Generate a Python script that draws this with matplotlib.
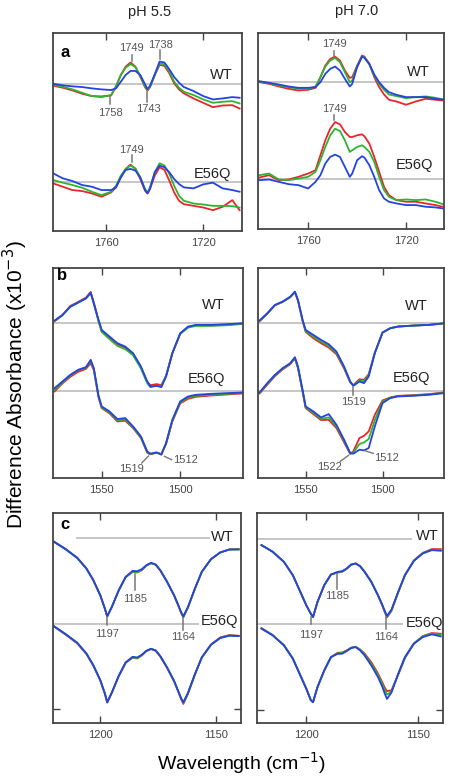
import matplotlib
matplotlib.use("Agg")
import matplotlib.pyplot as plt

plt.rcParams["font.family"] = ["Liberation Sans", "DejaVu Sans"]

RED, GREEN, BLUE = "#e8262b", "#2fb432", "#2443e0"
BASE = "#c2c2c2"
NOTE = "#555555"

# ---- panel a: C=O region, 1782-1705 cm-1 (arbitrary difference units) ----
A55_X = [1782, 1778, 1774, 1770, 1766, 1762, 1758, 1756, 1754, 1752, 1750, 1748, 1746, 1744, 1743,
         1742, 1740, 1738, 1736, 1734, 1732, 1730, 1728, 1724, 1720, 1716, 1712, 1708, 1705]
A55_WT_R = [-4, -10, -18, -28, -35, -36, -33, -7, 28, 53, 65, 53, 23, -9, -19, -9, 28, 58, 55, 33, 3, -15, -27, -42, -55, -68, -63, -62, -72]
A55_WT_G = [-1, -7, -15, -25, -35, -38, -32, -5, 28, 50, 60, 52, 25, -6, -17, -8, 28, 62, 60, 38, 8, -10, -22, -32, -45, -55, -52, -50, -57]
A55_WT_B = [2, -3, -6, -8, -12, -15, -17, -12, 8, 28, 40, 40, 28, 0, -14, -5, 30, 68, 65, 45, 22, 5, -8, -20, -35, -45, -42, -38, -40]
A55_MU_R = [-5, -15, -25, -28, -35, -45, -32, -17, 13, 38, 51, 38, 8, -27, -35, -22, 18, 43, 35, 3, -32, -57, -67, -72, -77, -85, -75, -55, -85]
A55_MU_G = [5, -3, -10, -18, -30, -40, -30, -12, 18, 38, 48, 40, 13, -22, -32, -17, 28, 55, 48, 23, -12, -42, -57, -65, -68, -72, -72, -73, -77]
A55_MU_B = [25, 10, 2, -10, -15, -25, -25, -17, 13, 35, 38, 33, 13, -25, -35, -22, 28, 48, 43, 28, 8, -7, -17, -20, -8, -3, -20, -25, -30]

A70_X = [1780, 1776, 1772, 1768, 1764, 1760, 1757, 1755, 1753, 1751, 1749, 1747, 1745, 1743, 1742,
         1740, 1738, 1737, 1735, 1733, 1731, 1729, 1727, 1724, 1720, 1716, 1712, 1708, 1705]
A70_WT_R = [0, -5, -13, -20, -25, -23, -17, 15, 50, 70, 77, 65, 35, 13, 15, 50, 80, 77, 55, 15, -15, -37, -53, -58, -68, -58, -50, -53, -55]
A70_WT_G = [2, -3, -10, -15, -20, -20, -13, 15, 47, 65, 73, 60, 30, 0, 5, 47, 77, 75, 53, 20, -5, -23, -37, -42, -48, -45, -43, -47, -52]
A70_WT_B = [3, -2, -7, -13, -17, -17, -15, 0, 25, 40, 47, 35, 10, -13, -5, 45, 77, 73, 55, 23, 0, -17, -30, -38, -45, -45, -45, -50, -52]
A70_MU_R = [3, 10, -5, -3, 5, 15, 25, 70, 115, 150, 170, 163, 140, 125, 125, 130, 133, 127, 105, 65, 20, -25, -50, -65, -70, -70, -75, -80, -85]
A70_MU_G = [10, 15, -3, -5, 0, 5, 20, 55, 95, 130, 150, 143, 115, 80, 85, 95, 100, 95, 80, 50, 5, -35, -55, -65, -63, -65, -63, -70, -77]
A70_MU_B = [-5, -3, -10, -17, -20, -30, -10, 10, 45, 65, 72, 65, 35, 5, 15, 55, 67, 63, 40, 5, -35, -60, -70, -75, -80, -80, -85, -87, -90]

# ---- panel b: amide II region ----
B_X = [1580, 1575, 1570, 1565, 1560, 1557, 1555, 1552, 1550, 1545, 1540, 1535, 1530,
       1525, 1521, 1519, 1515, 1512, 1509, 1505, 1500, 1495, 1490, 1480, 1470, 1460]
B55_WT_R = [4, 22, 50, 62, 75, 92, 60, 5, -25, -45, -65, -75, -95, -135, -178, -188, -185, -188, -160, -92, -34, -14, -8, -8, -6, -3]
B55_WT_G = [5, 22, 47, 60, 72, 88, 56, 4, -28, -50, -70, -80, -98, -138, -182, -194, -190, -192, -160, -92, -34, -15, -10, -10, -8, -4]
B55_WT_B = [6, 23, 48, 60, 73, 90, 58, 8, -22, -42, -62, -72, -92, -132, -177, -192, -190, -194, -162, -92, -32, -12, -7, -7, -5, -2]
B55_MU_R = [-2, 22, 42, 57, 66, 83, 62, -20, -52, -68, -92, -90, -112, -142, -186, -191, -186, -190, -160, -92, -38, -24, -18, -14, -11, -8]
B55_MU_G = [3, 25, 46, 62, 70, 90, 66, -17, -50, -65, -88, -86, -110, -140, -185, -190, -186, -191, -158, -90, -35, -20, -15, -12, -9, -6]
B55_MU_B = [8, 28, 48, 63, 71, 93, 68, -15, -47, -62, -85, -82, -107, -137, -182, -189, -185, -192, -157, -87, -32, -17, -12, -9, -7, -5]

B70_WT_R = [4, 26, 52, 62, 76, 91, 66, 5, -28, -47, -62, -75, -95, -138, -180, -188, -170, -172, -155, -90, -30, -17, -12, -9, -7, -3]
B70_WT_G = [5, 27, 52, 62, 77, 92, 67, 6, -25, -42, -57, -70, -91, -135, -179, -189, -174, -177, -158, -91, -30, -17, -12, -9, -7, -2]
B70_WT_B = [6, 28, 53, 63, 78, 93, 68, 8, -22, -37, -52, -65, -87, -132, -177, -190, -177, -182, -162, -92, -30, -17, -12, -9, -7, -2]
B70_MU_R = [-8, 18, 44, 64, 80, 97, 68, -3, -52, -70, -88, -87, -112, -155, -190, -182, -142, -135, -122, -72, -29, -20, -15, -13, -10, -5]
B70_MU_G = [-6, 21, 46, 66, 82, 99, 70, 0, -50, -66, -84, -80, -107, -150, -188, -186, -160, -155, -145, -88, -33, -21, -16, -14, -11, -6]
B70_MU_B = [-5, 23, 48, 68, 83, 101, 73, 3, -47, -62, -80, -70, -102, -147, -187, -189, -177, -179, -172, -107, -37, -22, -17, -15, -12, -7]

# ---- panel c: fingerprint region ----
C_X = [1220, 1215, 1210, 1206, 1203, 1200, 1198, 1197, 1195, 1192, 1189, 1186, 1184, 1182, 1180,
       1178, 1176, 1174, 1171, 1168, 1166, 1165, 1164, 1162, 1159, 1156, 1152, 1148, 1144, 1140]
C55_WT_R = [-10, -32, -58, -90, -125, -170, -210, -234, -205, -155, -116, -100, -102, -95, -81, -74, -79, -96, -131, -171, -204, -222, -236, -207, -151, -100, -62, -42, -33, -32]
C55_WT_G = [-11, -33, -59, -91, -126, -171, -211, -233, -205, -156, -116, -100, -101, -94, -81, -74, -78, -95, -130, -170, -203, -221, -235, -206, -151, -100, -62, -42, -33, -33]
C55_WT_B = [-10, -32, -58, -90, -125, -170, -210, -233, -205, -155, -115, -97, -98, -92, -80, -73, -78, -95, -130, -170, -203, -220, -233, -205, -150, -100, -62, -42, -33, -33]
C55_MU_R = [-8, -32, -58, -90, -125, -169, -209, -235, -206, -156, -116, -101, -103, -94, -81, -75, -80, -97, -132, -172, -206, -224, -239, -209, -152, -100, -61, -40, -33, -35]
C55_MU_G = [-7, -31, -57, -89, -124, -168, -208, -234, -205, -155, -115, -100, -102, -93, -80, -74, -79, -96, -131, -171, -205, -222, -236, -207, -151, -100, -62, -41, -34, -36]
C55_MU_B = [-7, -30, -56, -88, -123, -168, -208, -234, -205, -155, -115, -98, -100, -92, -80, -74, -79, -96, -130, -170, -204, -221, -234, -206, -150, -100, -62, -42, -35, -36]

C70_WT_R = [-17, -37, -67, -107, -152, -197, -222, -232, -187, -137, -105, -99, -97, -88, -76, -72, -80, -96, -126, -168, -199, -217, -233, -214, -159, -107, -63, -40, -29, -29]
C70_WT_G = [-17, -37, -67, -107, -152, -197, -222, -232, -187, -137, -105, -99, -96, -88, -75, -72, -80, -97, -127, -167, -198, -215, -231, -212, -158, -107, -64, -41, -31, -32]
C70_WT_B = [-17, -37, -67, -107, -152, -197, -222, -232, -187, -137, -105, -97, -95, -87, -75, -72, -80, -97, -127, -167, -197, -214, -229, -210, -157, -107, -64, -42, -32, -34]
C70_MU_R = [-12, -33, -63, -103, -148, -193, -227, -233, -188, -139, -99, -86, -85, -79, -71, -68, -76, -88, -114, -148, -176, -190, -201, -198, -152, -102, -58, -36, -27, -29]
C70_MU_G = [-13, -33, -63, -103, -148, -193, -227, -233, -188, -139, -99, -88, -86, -80, -71, -68, -77, -91, -119, -153, -182, -198, -211, -202, -150, -100, -58, -37, -29, -32]
C70_MU_B = [-14, -34, -64, -104, -149, -194, -228, -234, -189, -139, -99, -89, -89, -81, -72, -69, -79, -94, -124, -159, -189, -208, -224, -205, -149, -99, -59, -39, -31, -37]


def draw(ax, x, wt, mu, wt_off, xlim, ylim, ticks, full_base=True):
    if full_base:
        ax.axhline(wt_off, color=BASE, lw=1.3, zorder=0)
        ax.axhline(0, color=BASE, lw=1.3, zorder=0)
    for curves, off in ((wt, wt_off), (mu, 0)):
        for y, c in zip(curves, (RED, GREEN, BLUE)):
            ax.plot(x, [v + off for v in y], color=c, lw=1.3)
    ax.set_xlim(*xlim)
    ax.set_ylim(*ylim)
    ax.set_xticks(ticks)
    ax.set_yticks([])
    ax.tick_params(direction="in", top=True, length=5, width=1, labelsize=8,
                   labelcolor="#444444", color="#444444", pad=5)
    for s in ax.spines.values():
        s.set_color("#444444")
        s.set_linewidth(1.3)


def mark(ax, x, y0, y1, label, ty, tx=None):
    ax.plot([x, x], [y0, y1], color="#777777", lw=1.1)
    ax.text(x if tx is None else tx, ty, label, ha="center", va="center",
            fontsize=8, color=NOTE)


def slant(ax, x0, y0, x1, y1, label, tx, ty, ha="center"):
    ax.plot([x0, x1], [y0, y1], color="#777777", lw=1.0)
    ax.text(tx, ty, label, ha=ha, va="center", fontsize=8, color=NOTE)


def tag(ax, x, y, s):
    ax.text(x, y, s, ha="center", va="center", fontsize=10.5, color="#222222")


fig = plt.figure(figsize=(4.5, 7.76), dpi=100)
L, R = [53 / 450, 189 / 450], [258 / 450, 186 / 450]
rows = [(1 - 231 / 776, 198 / 776), (1 - 478 / 776, 210 / 776), (1 - 723 / 776, 210 / 776)]

# row a
ax = fig.add_axes([L[0], rows[0][0], L[1], rows[0][1]])
draw(ax, A55_X, (A55_WT_R, A55_WT_G, A55_WT_B), (A55_MU_R, A55_MU_G, A55_MU_B),
     290, (1782, 1704), (-147, 443), [1760, 1720])
mark(ax, 1749.5, 361, 378, "1749", 398)
mark(ax, 1737.8, 365, 391, "1738", 406)
mark(ax, 1758.4, 231, 255, "1758", 206)
mark(ax, 1743.3, 238, 268, "1743", 218, tx=1742.6)
mark(ax, 1749.5, 58, 78, "1749", 95)
tag(ax, 1712.5, 318, "WT")
tag(ax, 1716, 23, "E56Q")
ax.text(0.065, 0.9, "a", transform=ax.transAxes, fontsize=12, fontweight="bold",
        ha="center", va="center")

ax = fig.add_axes([R[0], 1 - 229 / 776, R[1], 196 / 776])
draw(ax, A70_X, (A70_WT_R, A70_WT_G, A70_WT_B), (A70_MU_R, A70_MU_G, A70_MU_B),
     290, (1780.5, 1704.5), (-152, 438), [1760, 1720])
mark(ax, 1749.3, 370, 385, "1749", 405)
mark(ax, 1749.3, 177, 190, "1749", 210)
tag(ax, 1715, 320, "WT")
tag(ax, 1716.4, 40, "E56Q")

# row b
ax = fig.add_axes([L[0], rows[1][0], 190 / 450, rows[1][1]])
draw(ax, B_X, (B55_WT_R, B55_WT_G, B55_WT_B), (B55_MU_R, B55_MU_G, B55_MU_B),
     205, (1581, 1460), (-262, 369), [1550, 1500])
slant(ax, 1524.5, -217, 1520.2, -196, "1519", 1530.8, -235)
slant(ax, 1510, -197, 1505.5, -207, "1512", 1504.5, -208, ha="left")
tag(ax, 1478.7, 258, "WT")
tag(ax, 1483, 36, "E56Q")
ax.text(0.05, 0.965, "b", transform=ax.transAxes, fontsize=12, fontweight="bold",
        ha="center", va="center")

ax = fig.add_axes([R[0], rows[1][0], R[1], rows[1][1]])
draw(ax, B_X, (B70_WT_R, B70_WT_G, B70_WT_B), (B70_MU_R, B70_MU_G, B70_MU_B),
     205, (1581, 1460), (-262, 369), [1550, 1500])
mark(ax, 1519, -12, 10, "1519", -35)
slant(ax, 1527.5, -212, 1522.1, -194, "1522", 1534.5, -228)
slant(ax, 1511.4, -180, 1506, -188, "1512", 1505.5, -202, ha="left")
tag(ax, 1478, 255, "WT")
tag(ax, 1481.3, 38, "E56Q")

# row c
ax = fig.add_axes([L[0], rows[2][0], 188 / 450, rows[2][1]])
draw(ax, C_X, (C55_WT_R, C55_WT_G, C55_WT_B), (C55_MU_R, C55_MU_G, C55_MU_B),
     256, (1220.5, 1139), (-296, 332), [1200, 1150], full_base=False)
ax.hlines(256, 1210.7, 1152.6, color=BASE, lw=1.3, zorder=0)
ax.hlines(0, 1220.5, 1157, color=BASE, lw=1.3, zorder=0)
ax.set_yticks([-254])
ax.tick_params(axis="y", left=True, right=True, labelleft=False)
mark(ax, 1185.1, 101, 151, "1185", 74)
mark(ax, 1197, -4, 21, "1197", -29)
mark(ax, 1164.2, -19, 19, "1164", -39)
tag(ax, 1147.1, 261, "WT")
tag(ax, 1148.3, 8, "E56Q")
ax.text(0.063, 0.943, "c", transform=ax.transAxes, fontsize=12, fontweight="bold",
        ha="center", va="center")

ax = fig.add_axes([R[0] - 1 / 450, rows[2][0], R[1], rows[2][1]])
draw(ax, C_X, (C70_WT_R, C70_WT_G, C70_WT_B), (C70_MU_R, C70_MU_G, C70_MU_B),
     253, (1222, 1139), (-296, 332), [1200, 1150], full_base=False)
ax.hlines(253, 1222, 1152.7, color=BASE, lw=1.3, zorder=0)
ax.hlines(0, 1222, 1157, color=BASE, lw=1.3, zorder=0)
ax.set_yticks([-257])
ax.tick_params(axis="y", left=True, right=True, labelleft=False)
mark(ax, 1186.2, 106, 151, "1185", 83)
mark(ax, 1198, -1, 21, "1197", -32)
mark(ax, 1164.6, -14, 21, "1164", -39)
tag(ax, 1146, 263, "WT")
tag(ax, 1147.5, 2, "E56Q")

fig.text(150 / 450, 1 - 12 / 776, "pH 5.5", ha="center", va="center", fontsize=10.5, color="#222222")
fig.text(357 / 450, 1 - 11 / 776, "pH 7.0", ha="center", va="center", fontsize=10.5, color="#222222")
fig.text(15 / 450, 1 - 385 / 776, "Difference Absorbance (x10$^{-3}$)", rotation=90,
         ha="center", va="center", fontsize=15)
fig.text(242 / 450, 1 - 763 / 776, "Wavelength (cm$^{-1}$)", ha="center", va="center",
         fontsize=14)

fig.savefig("out.png", dpi=100)
